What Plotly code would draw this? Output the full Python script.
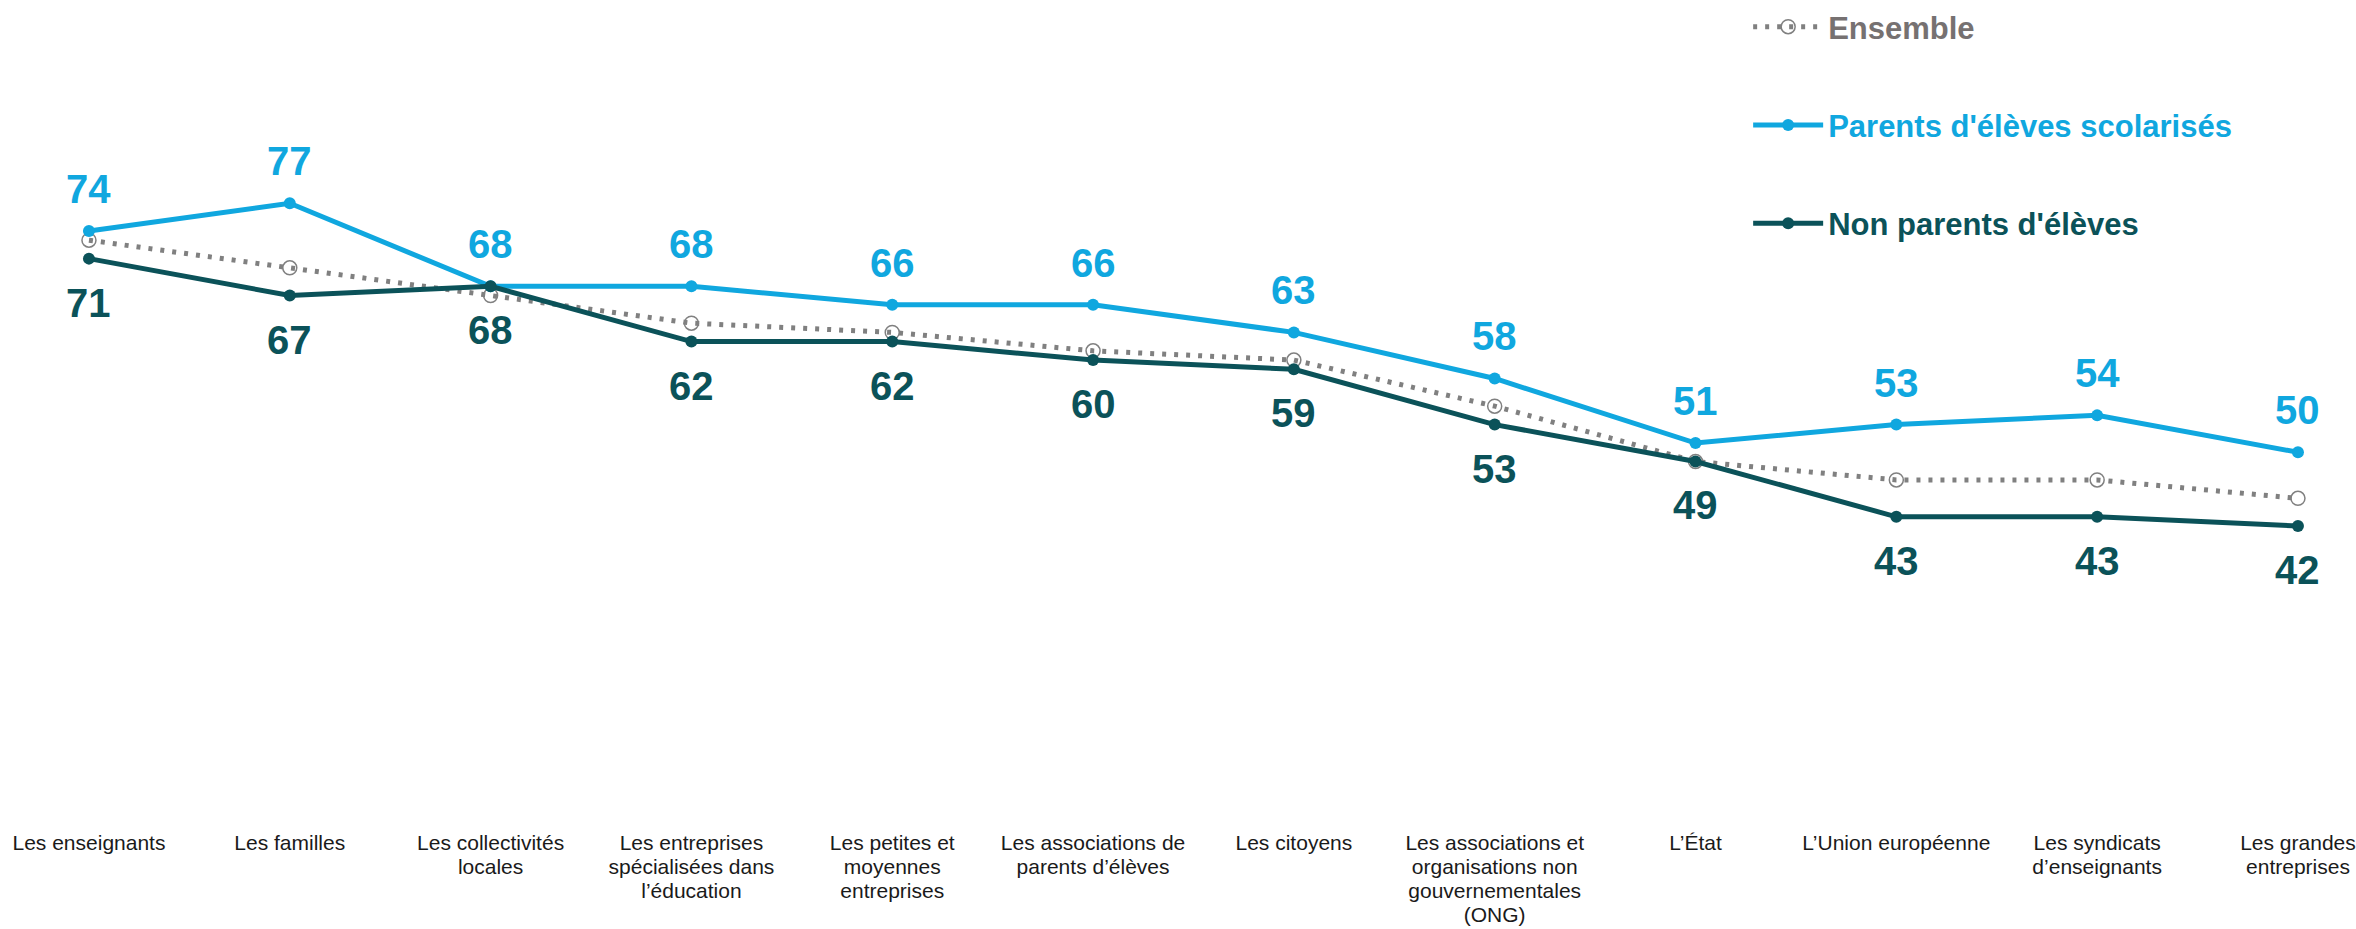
import plotly.graph_objects as go

categories = [
    "Les enseignants",
    "Les familles",
    "Les collectivités<br>locales",
    "Les entreprises<br>spécialisées dans<br>l’éducation",
    "Les petites et<br>moyennes<br>entreprises",
    "Les associations de<br>parents d’élèves",
    "Les citoyens",
    "Les associations et<br>organisations non<br>gouvernementales<br>(ONG)",
    "L’État",
    "L’Union européenne",
    "Les syndicats<br>d’enseignants",
    "Les grandes<br>entreprises",
]
ensemble = [73, 70, 67, 64, 63, 61, 60, 55, 49, 47, 47, 45]
parents = [74, 77, 68, 68, 66, 66, 63, 58, 51, 53, 54, 50]
non_parents = [71, 67, 68, 62, 62, 60, 59, 53, 49, 43, 43, 42]

C_ENS = "#808080"
C_ENS_TXT = "#767171"
C_PAR = "#10a7df"
C_NON = "#0b5259"
FONT = "Liberation Sans, Arial, sans-serif"


def tick_label(s):
    # larger glyphs, tighter line spacing than the base tick font
    return "<br>".join("<span style='font-size:21px'>%s</span>" % part for part in s.split("<br>"))


xs = list(range(len(categories)))
fig = go.Figure()

fig.add_trace(go.Scatter(
    x=xs, y=ensemble, mode="lines+markers",
    name="<b><span style='color:%s'>Ensemble</span></b>" % C_ENS_TXT,
    line=dict(color=C_ENS, width=5, dash="4px,8px"),
    marker=dict(symbol="circle-open", size=14, color=C_ENS, line=dict(width=1.5)),
    legendgroup="a",
))
fig.add_trace(go.Scatter(
    x=xs, y=parents, mode="lines+markers",
    name="<b><span style='color:%s'>Parents d'élèves scolarisés</span></b>" % C_PAR,
    line=dict(color=C_PAR, width=5),
    marker=dict(symbol="circle", size=12, color=C_PAR),
    legendgroup="b",
))
fig.add_trace(go.Scatter(
    x=xs, y=non_parents, mode="lines+markers",
    name="<b><span style='color:%s'>Non parents d'élèves</span></b>" % C_NON,
    line=dict(color=C_NON, width=5),
    marker=dict(symbol="circle", size=12, color=C_NON),
    legendgroup="c",
))

annotations = []
for i, v in enumerate(parents):
    annotations.append(dict(x=i, y=v, text="<b>%d</b>" % v, showarrow=False,
                            yshift=42, font=dict(size=40, color=C_PAR, family=FONT)))
for i, v in enumerate(non_parents):
    annotations.append(dict(x=i, y=v, text="<b>%d</b>" % v, showarrow=False,
                            yshift=-44, font=dict(size=40, color=C_NON, family=FONT)))

fig.update_layout(
    width=2356, height=929,
    margin=dict(l=0, r=0, t=0, b=99, autoexpand=False),
    paper_bgcolor="white", plot_bgcolor="white",
    font=dict(family=FONT, color="#1a1a1a"),
    annotations=annotations,
    showlegend=True,
    legend=dict(
        x=0.742, y=1.0, xanchor="left", yanchor="top",
        font=dict(size=31, family=FONT),
        tracegroupgap=55, itemwidth=70,
        bgcolor="rgba(0,0,0,0)",
    ),
    xaxis=dict(
        range=[-0.443, 11.289], automargin=False,
        tickmode="array", tickvals=xs, ticktext=[tick_label(c) for c in categories],
        showgrid=False, zeroline=False, showline=False, ticks="",
        tickfont=dict(size=18.5, color="#1a1a1a", family=FONT),
        ticklabelstandoff=0, ticklabeloverflow="allow",
    ),
    yaxis=dict(
        range=[9.03, 99.05], automargin=False,
        visible=False, showgrid=False, zeroline=False,
    ),
)

fig.write_html(
    "out.html",
    config={"displayModeBar": False},
    post_script="document.body.style.margin='0';document.body.style.overflow='hidden';",
)
